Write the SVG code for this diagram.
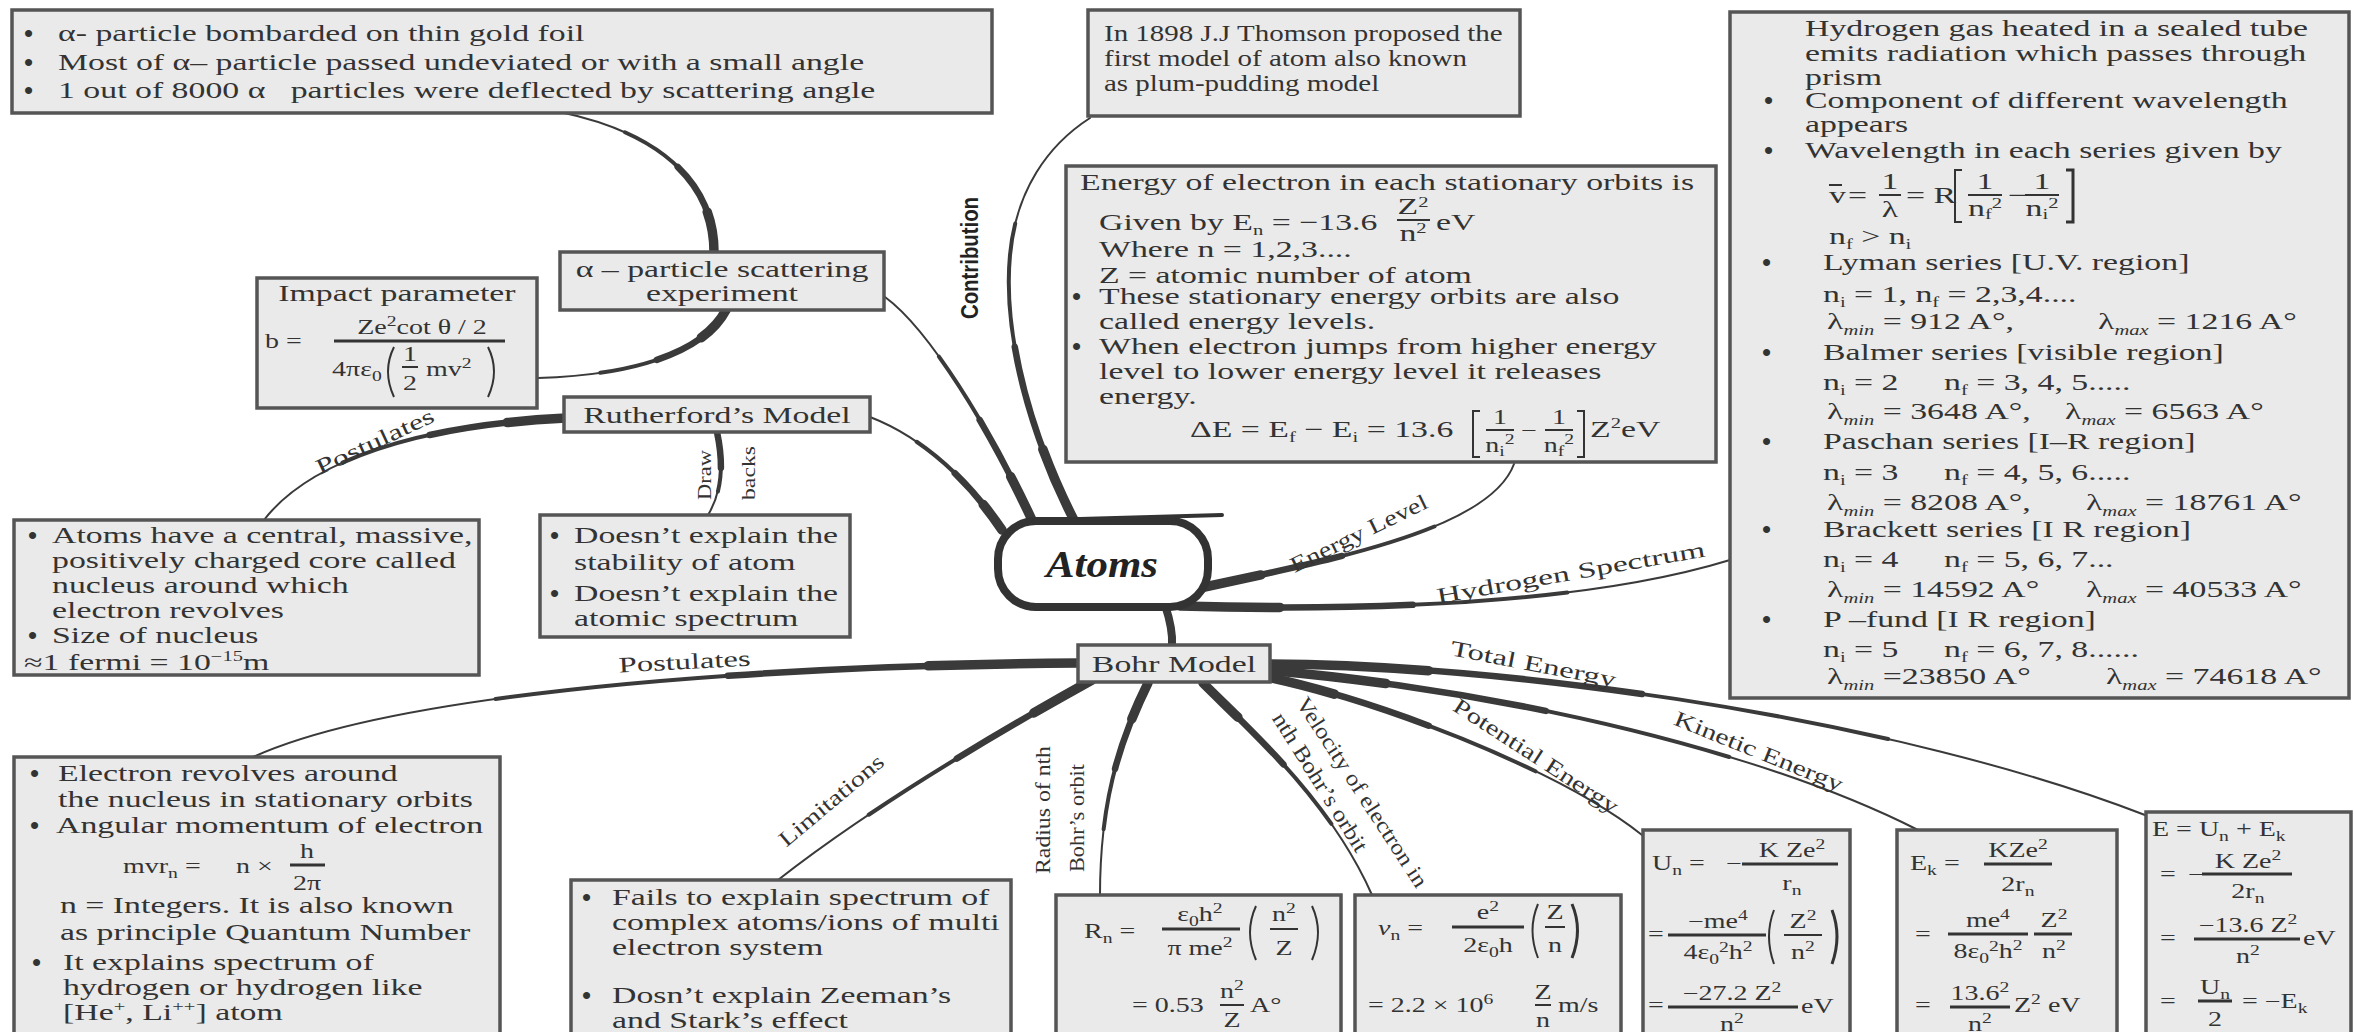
<svg xmlns="http://www.w3.org/2000/svg" width="2354" height="1032" viewBox="0 0 2354 1032">
<style>
.bx{fill:#eaeaea;stroke:#555;stroke-width:3.5}
.t{font-family:"Liberation Serif",serif;font-size:23px;fill:#333;transform-box:fill-box;transform-origin:0 0;transform:scaleX(1.47)}
.f{font-size:20px;transform:scaleX(1.4)}
.n{transform:scaleX(1.26)}
.c{text-anchor:middle;transform-origin:50% 0}
.s{font-size:14px}
.it{font-style:italic}
.b{font-family:"Liberation Serif",serif;font-size:26px;font-weight:bold;fill:#333}
.fl{stroke:#333;stroke-width:2;fill:none}
.lb{font-family:"Liberation Serif",serif;font-size:22px;fill:#333;text-anchor:middle}
.edge path{fill:none;stroke:#3a3a3a;stroke-linecap:round}
.w1{stroke-width:2}
.w2{stroke-width:4;stroke-dasharray:70 200}
.w3{stroke-width:6.5;stroke-dasharray:42 200}
.w4{stroke-width:9.5;stroke-dasharray:18 200}
</style>
<rect width="2354" height="1032" fill="#fff"/>

<g id="connectors">
 <g class="edge" id="e-contribution">
  <path class="w1" d="M1075,522 C1035,445 1002,340 1010,255 C1016,190 1048,145 1090,118"/>
  <path class="w2" pathLength="100" d="M1075,522 C1035,445 1002,340 1010,255 C1016,190 1048,145 1090,118"/>
  <path class="w3" pathLength="100" d="M1075,522 C1035,445 1002,340 1010,255 C1016,190 1048,145 1090,118"/>
  <path class="w4" pathLength="100" d="M1075,522 C1035,445 1002,340 1010,255 C1016,190 1048,145 1090,118"/>
 </g>
 <g class="edge" id="e-alpha">
  <path class="w1" d="M1032,520 C990,430 930,330 885,297"/>
  <path class="w2" pathLength="100" d="M1032,520 C990,430 930,330 885,297"/>
  <path class="w3" pathLength="100" d="M1032,520 C990,430 930,330 885,297"/>
  <path class="w4" pathLength="100" d="M1032,520 C990,430 930,330 885,297"/>
 </g>
 <g class="edge" id="e-rutherford">
  <path class="w1" d="M1002,530 C975,490 930,440 870,417"/>
  <path class="w2" pathLength="100" d="M1002,530 C975,490 930,440 870,417"/>
  <path class="w3" pathLength="100" d="M1002,530 C975,490 930,440 870,417"/>
  <path class="w4" pathLength="100" d="M1002,530 C975,490 930,440 870,417"/>
 </g>
 <g class="edge" id="e-alpha-notes">
  <path class="w1" d="M714,252 C714,190 670,135 560,112"/>
  <path class="w2" pathLength="100" d="M714,252 C714,190 670,135 560,112"/>
  <path class="w3" pathLength="100" d="M714,252 C714,190 670,135 560,112"/>
  <path class="w4" pathLength="100" d="M714,252 C714,190 670,135 560,112"/>
 </g>
 <g class="edge" id="e-alpha-impact">
  <path class="w1" d="M726,310 C705,350 640,375 538,378"/>
  <path class="w2" pathLength="100" d="M726,310 C705,350 640,375 538,378"/>
  <path class="w3" pathLength="100" d="M726,310 C705,350 640,375 538,378"/>
  <path class="w4" pathLength="100" d="M726,310 C705,350 640,375 538,378"/>
 </g>
 <g class="edge" id="e-ruth-postulates">
  <path class="w1" d="M566,418 C420,425 310,460 264,520"/>
  <path class="w2" pathLength="100" d="M566,418 C420,425 310,460 264,520"/>
  <path class="w3" pathLength="100" d="M566,418 C420,425 310,460 264,520"/>
  <path class="w4" pathLength="100" d="M566,418 C420,425 310,460 264,520"/>
  <text class="lb" transform="translate(378,448) rotate(-25)" textLength="128" lengthAdjust="spacingAndGlyphs">Postulates</text>
 </g>
 <g class="edge" id="e-ruth-drawbacks">
  <path class="w1" d="M717,432 C724,465 722,492 708,515"/>
  <path class="w2" pathLength="100" d="M717,432 C724,465 722,492 708,515"/>
  <path class="w3" pathLength="100" d="M717,432 C724,465 722,492 708,515"/>
  <text class="lb" style="font-size:19px" transform="translate(711,475) rotate(-90)" textLength="50" lengthAdjust="spacingAndGlyphs">Draw</text>
  <text class="lb" style="font-size:19px" transform="translate(755,473) rotate(-90)" textLength="54" lengthAdjust="spacingAndGlyphs">backs</text>
 </g>
 <g class="edge" id="e-energy">
  <path class="w1" d="M1200,588 C1330,560 1490,530 1514,464"/>
  <path class="w2" pathLength="100" d="M1200,588 C1330,560 1490,530 1514,464"/>
  <path class="w3" pathLength="100" d="M1200,588 C1330,560 1490,530 1514,464"/>
  <path class="w4" pathLength="100" d="M1200,588 C1330,560 1490,530 1514,464"/>
  <text class="lb" transform="translate(1362,540) rotate(-26)" textLength="150" lengthAdjust="spacingAndGlyphs">Energy Level</text>
 </g>
 <g class="edge" id="e-hydrogen">
  <path class="w1" d="M1180,606 C1400,612 1600,600 1730,560"/>
  <path class="w2" pathLength="100" d="M1180,606 C1400,612 1600,600 1730,560"/>
  <path class="w3" pathLength="100" d="M1180,606 C1400,612 1600,600 1730,560"/>
  <path class="w4" pathLength="100" d="M1180,606 C1400,612 1600,600 1730,560"/>
  <text class="lb" transform="translate(1572,580) rotate(-10)" textLength="272" lengthAdjust="spacingAndGlyphs">Hydrogen Spectrum</text>
 </g>
 <g class="edge" id="e-bohr">
  <path d="M1165,605 C1170,620 1173,632 1172,646" style="stroke-width:8"/>
 </g>
 <g class="edge" id="e-bohr-postulates">
  <path class="w1" d="M1078,663 C780,665 400,690 253,757"/>
  <path class="w2" pathLength="100" d="M1078,663 C780,665 400,690 253,757"/>
  <path class="w3" pathLength="100" d="M1078,663 C780,665 400,690 253,757"/>
  <path class="w4" pathLength="100" d="M1078,663 C780,665 400,690 253,757"/>
  <text class="lb" transform="translate(685,669) rotate(-3)" textLength="132" lengthAdjust="spacingAndGlyphs">Postulates</text>
 </g>
 <g class="edge" id="e-limitations">
  <path class="w1" d="M1092,680 C1020,720 880,800 778,880"/>
  <path class="w2" pathLength="100" d="M1092,680 C1020,720 880,800 778,880"/>
  <path class="w3" pathLength="100" d="M1092,680 C1020,720 880,800 778,880"/>
  <path class="w4" pathLength="100" d="M1092,680 C1020,720 880,800 778,880"/>
  <text class="lb" transform="translate(836,806) rotate(-40)" textLength="130" lengthAdjust="spacingAndGlyphs">Limitations</text>
 </g>
 <g class="edge" id="e-radius">
  <path class="w1" d="M1148,683 C1120,740 1100,800 1100,895"/>
  <path class="w2" pathLength="100" d="M1148,683 C1120,740 1100,800 1100,895"/>
  <path class="w3" pathLength="100" d="M1148,683 C1120,740 1100,800 1100,895"/>
  <path class="w4" pathLength="100" d="M1148,683 C1120,740 1100,800 1100,895"/>
  <text class="lb" style="font-size:20px" transform="translate(1050,810) rotate(-90)" textLength="128" lengthAdjust="spacingAndGlyphs">Radius of nth</text>
  <text class="lb" style="font-size:20px" transform="translate(1084,818) rotate(-90)" textLength="108" lengthAdjust="spacingAndGlyphs">Bohr’s orbit</text>
 </g>
 <g class="edge" id="e-velocity">
  <path class="w1" d="M1203,683 C1250,730 1330,800 1372,895"/>
  <path class="w2" pathLength="100" d="M1203,683 C1250,730 1330,800 1372,895"/>
  <path class="w3" pathLength="100" d="M1203,683 C1250,730 1330,800 1372,895"/>
  <path class="w4" pathLength="100" d="M1203,683 C1250,730 1330,800 1372,895"/>
  <text class="lb" transform="translate(1356,796) rotate(57)" textLength="222" lengthAdjust="spacingAndGlyphs">Velocity of electron in</text>
  <text class="lb" transform="translate(1314,786) rotate(58)" textLength="160" lengthAdjust="spacingAndGlyphs">nth Bohr’s orbit</text>
 </g>
 <g class="edge" id="e-potential">
  <path class="w1" d="M1262,676 C1380,700 1560,770 1642,835"/>
  <path class="w2" pathLength="100" d="M1262,676 C1380,700 1560,770 1642,835"/>
  <path class="w3" pathLength="100" d="M1262,676 C1380,700 1560,770 1642,835"/>
  <path class="w4" pathLength="100" d="M1262,676 C1380,700 1560,770 1642,835"/>
  <text class="lb" transform="translate(1532,762) rotate(33)" textLength="192" lengthAdjust="spacingAndGlyphs">Potential Energy</text>
 </g>
 <g class="edge" id="e-kinetic">
  <path class="w1" d="M1265,670 C1500,690 1760,750 1918,830"/>
  <path class="w2" pathLength="100" d="M1265,670 C1500,690 1760,750 1918,830"/>
  <path class="w3" pathLength="100" d="M1265,670 C1500,690 1760,750 1918,830"/>
  <path class="w4" pathLength="100" d="M1265,670 C1500,690 1760,750 1918,830"/>
  <text class="lb" transform="translate(1756,758) rotate(22)" textLength="180" lengthAdjust="spacingAndGlyphs">Kinetic Energy</text>
 </g>
 <g class="edge" id="e-total">
  <path class="w1" d="M1268,664 C1520,665 1900,720 2145,815"/>
  <path class="w2" pathLength="100" d="M1268,664 C1520,665 1900,720 2145,815"/>
  <path class="w3" pathLength="100" d="M1268,664 C1520,665 1900,720 2145,815"/>
  <path class="w4" pathLength="100" d="M1268,664 C1520,665 1900,720 2145,815"/>
  <text class="lb" transform="translate(1532,671) rotate(11)" textLength="168" lengthAdjust="spacingAndGlyphs">Total Energy</text>
 </g>
 <text transform="translate(978,258) rotate(-90)" text-anchor="middle" textLength="122" lengthAdjust="spacingAndGlyphs" style="font-family:'Liberation Sans',sans-serif;font-weight:bold;font-size:24px;fill:#222">Contribution</text>
</g>

<g id="n-alpha-notes">
 <rect class="bx" x="12" y="10" width="980" height="103"/>
 <text class="b" x="24" y="42">•</text><text class="b" x="24" y="71">•</text><text class="b" x="24" y="99">•</text>
 <text class="t" x="58" y="41">α- particle bombarded on thin gold foil</text>
 <text class="t" x="58" y="70">Most of α– particle passed undeviated or with a small angle</text>
 <text class="t" x="58" y="98">1 out of 8000 α&#160;&#160; particles were deflected by scattering angle</text>
</g>

<g id="n-thomson">
 <rect class="bx" x="1088" y="10" width="432" height="106"/>
 <text class="t n" x="1104" y="41">In 1898 J.J Thomson proposed the</text>
 <text class="t n" x="1104" y="66">first model of atom also known</text>
 <text class="t n" x="1104" y="91">as plum-pudding model</text>
</g>

<g id="n-energy">
 <rect class="bx" x="1066" y="166" width="650" height="296"/>
 <text class="t" x="1080" y="190">Energy of electron in each stationary orbits is</text>
 <text class="t" x="1099" y="230">Given by E<tspan class="s" dy="5">n</tspan><tspan dy="-5"> = −13.6</tspan></text>
 <text class="t c" x="1413" y="214">Z<tspan class="s" dy="-7">2</tspan></text>
 <line class="fl" x1="1397" y1="220" x2="1430" y2="220"/>
 <text class="t c" x="1413" y="241">n<tspan class="s" dy="-8">2</tspan></text>
 <text class="t" x="1436" y="230">eV</text>
 <text class="t" x="1099" y="257">Where n = 1,2,3....</text>
 <text class="t" x="1099" y="283">Z = atomic number of atom</text>
 <text class="b" x="1072" y="305">•</text>
 <text class="t" x="1099" y="304">These stationary energy orbits are also</text>
 <text class="t" x="1099" y="329">called energy levels.</text>
 <text class="b" x="1072" y="355">•</text>
 <text class="t" x="1099" y="354">When electron jumps from higher energy</text>
 <text class="t" x="1099" y="379">level to lower energy level it releases</text>
 <text class="t" x="1099" y="404">energy.</text>
 <text class="t" x="1190" y="437">ΔE = E<tspan class="s" dy="5">f</tspan><tspan dy="-5"> − E</tspan><tspan class="s" dy="5">i</tspan><tspan dy="-5"> = 13.6</tspan></text>
 <path class="fl" d="M1480,411 L1473,411 L1473,457 L1480,457"/>
 <text class="t f c" x="1500" y="424">1</text>
 <line class="fl" x1="1486" y1="430" x2="1514" y2="430"/>
 <text class="t f c" x="1500" y="452">n<tspan class="s" dy="4">i</tspan><tspan class="s" dy="-12">2</tspan></text>
 <text class="t f" x="1521" y="437">−</text>
 <text class="t f c" x="1559" y="424">1</text>
 <line class="fl" x1="1545" y1="430" x2="1573" y2="430"/>
 <text class="t f c" x="1559" y="452">n<tspan class="s" dy="4">f</tspan><tspan class="s" dy="-12">2</tspan></text>
 <path class="fl" d="M1577,411 L1584,411 L1584,457 L1577,457"/>
 <text class="t" x="1590" y="437">Z<tspan class="s" dy="-9">2</tspan><tspan dy="9">eV</tspan></text>
</g>

<g id="n-hydrogen">
 <rect class="bx" x="1730" y="12" width="619" height="686"/>
 <text class="t" x="1805" y="36">Hydrogen gas heated in a sealed tube</text>
 <text class="t" x="1805" y="61">emits radiation which passes through</text>
 <text class="t" x="1805" y="85">prism</text>
 <text class="b" x="1764" y="109">•</text>
 <text class="t" x="1805" y="108">Component of different wavelength</text>
 <text class="t" x="1805" y="132">appears</text>
 <text class="b" x="1764" y="159">•</text>
 <text class="t" x="1805" y="158">Wavelength in each series given by</text>
 <text class="t" x="1829" y="203">v</text>
 <line class="fl" x1="1829" y1="185" x2="1842" y2="185"/>
 <text class="t" x="1848" y="203">=</text>
 <text class="t c" x="1890" y="189">1</text>
 <line class="fl" x1="1879" y1="195" x2="1901" y2="195"/>
 <text class="t c" x="1890" y="217">λ</text>
 <text class="t" x="1906" y="203">= R</text>
 <path class="fl" d="M1962,170 L1955,170 L1955,222 L1962,222"/>
 <text class="t c" x="1985" y="189">1</text>
 <line class="fl" x1="1968" y1="195" x2="2002" y2="195"/>
 <text class="t c" x="1985" y="216">n<tspan class="s" dy="3">f</tspan><tspan class="s" dy="-11">2</tspan></text>
 <text class="t" x="2008" y="203">−</text>
 <text class="t c" x="2042" y="189">1</text>
 <line class="fl" x1="2025" y1="195" x2="2059" y2="195"/>
 <text class="t c" x="2042" y="216">n<tspan class="s" dy="3">i</tspan><tspan class="s" dy="-11">2</tspan></text>
 <path class="fl" d="M2066,170 L2073,170 L2073,222 L2066,222" style="stroke-width:3"/>
 <text class="t" x="1829" y="244">n<tspan class="s" dy="5">f</tspan><tspan dy="-5"> &gt; n</tspan><tspan class="s" dy="5">i</tspan></text>

 <text class="b" x="1762" y="271">•</text>
 <text class="t" x="1823" y="270">Lyman series [U.V. region]</text>
 <text class="t" x="1823" y="302">n<tspan class="s" dy="5">i</tspan><tspan dy="-5"> = 1, n</tspan><tspan class="s" dy="5">f</tspan><tspan dy="-5"> = 2,3,4....</tspan></text>
 <text class="t" x="1827" y="329">λ<tspan class="s it" dy="6">min</tspan><tspan dy="-6"> = 912 A°,</tspan></text>
 <text class="t" x="2098" y="329">λ<tspan class="s it" dy="6">max</tspan><tspan dy="-6"> = 1216 A°</tspan></text>

 <text class="b" x="1762" y="361">•</text>
 <text class="t" x="1823" y="360">Balmer series [visible region]</text>
 <text class="t" x="1823" y="390">n<tspan class="s" dy="5">i</tspan><tspan dy="-5"> = 2</tspan></text>
 <text class="t" x="1944" y="390">n<tspan class="s" dy="5">f</tspan><tspan dy="-5"> = 3, 4, 5.....</tspan></text>
 <text class="t" x="1827" y="419">λ<tspan class="s it" dy="6">min</tspan><tspan dy="-6"> = 3648 A°,</tspan></text>
 <text class="t" x="2065" y="419">λ<tspan class="s it" dy="6">max</tspan><tspan dy="-6"> = 6563 A°</tspan></text>

 <text class="b" x="1762" y="450">•</text>
 <text class="t" x="1823" y="449">Paschan series [I–R region]</text>
 <text class="t" x="1823" y="480">n<tspan class="s" dy="5">i</tspan><tspan dy="-5"> = 3</tspan></text>
 <text class="t" x="1944" y="480">n<tspan class="s" dy="5">f</tspan><tspan dy="-5"> = 4, 5, 6.....</tspan></text>
 <text class="t" x="1827" y="510">λ<tspan class="s it" dy="6">min</tspan><tspan dy="-6"> = 8208 A°,</tspan></text>
 <text class="t" x="2086" y="510">λ<tspan class="s it" dy="6">max</tspan><tspan dy="-6"> = 18761 A°</tspan></text>

 <text class="b" x="1762" y="538">•</text>
 <text class="t" x="1823" y="537">Brackett series [I R region]</text>
 <text class="t" x="1823" y="567">n<tspan class="s" dy="5">i</tspan><tspan dy="-5"> = 4</tspan></text>
 <text class="t" x="1944" y="567">n<tspan class="s" dy="5">f</tspan><tspan dy="-5"> = 5, 6, 7...</tspan></text>
 <text class="t" x="1827" y="597">λ<tspan class="s it" dy="6">min</tspan><tspan dy="-6"> = 14592 A°</tspan></text>
 <text class="t" x="2086" y="597">λ<tspan class="s it" dy="6">max</tspan><tspan dy="-6"> = 40533 A°</tspan></text>

 <text class="b" x="1762" y="628">•</text>
 <text class="t" x="1823" y="627">P –fund [I R region]</text>
 <text class="t" x="1823" y="657">n<tspan class="s" dy="5">i</tspan><tspan dy="-5"> = 5</tspan></text>
 <text class="t" x="1944" y="657">n<tspan class="s" dy="5">f</tspan><tspan dy="-5"> = 6, 7, 8......</tspan></text>
 <text class="t" x="1827" y="684">λ<tspan class="s it" dy="6">min</tspan><tspan dy="-6"> =23850 A°</tspan></text>
 <text class="t" x="2106" y="684">λ<tspan class="s it" dy="6">max</tspan><tspan dy="-6"> = 74618 A°</tspan></text>
</g>

<g id="n-alpha">
 <rect class="bx" x="560" y="252" width="324" height="58"/>
 <text class="t c" x="722" y="277">α – particle scattering</text>
 <text class="t c" x="722" y="301">experiment</text>
</g>

<g id="n-impact">
 <rect class="bx" x="257" y="278" width="280" height="130"/>
 <text class="t c" x="397" y="301">Impact parameter</text>
 <text class="t f" x="265" y="348">b =</text>
 <text class="t f c" x="422" y="334">Ze<tspan class="s" dy="-8">2</tspan><tspan dy="8">cot θ / 2</tspan></text>
 <line class="fl" x1="334" y1="341" x2="505" y2="341" style="stroke-width:3"/>
 <text class="t f" x="332" y="376">4πε<tspan class="s" dy="5">0</tspan></text>
 <path class="fl" d="M394,347 Q382,371 394,397"/>
 <text class="t f c" x="410" y="361">1</text>
 <line class="fl" x1="402" y1="367" x2="418" y2="367"/>
 <text class="t f c" x="410" y="390">2</text>
 <text class="t f" x="426" y="376">mv<tspan class="s" dy="-8">2</tspan></text>
 <path class="fl" d="M488,347 Q500,371 488,397"/>
</g>

<g id="n-rutherford">
 <rect class="bx" x="564" y="397" width="306" height="35"/>
 <text class="t c" x="717" y="423">Rutherford’s Model</text>
</g>

<g id="n-ruth-postulates">
 <rect class="bx" x="14" y="520" width="465" height="155"/>
 <text class="b" x="28" y="544">•</text>
 <text class="t" x="52" y="543">Atoms have a central, massive,</text>
 <text class="t" x="52" y="568">positively charged core called</text>
 <text class="t" x="52" y="593">nucleus around which</text>
 <text class="t" x="52" y="618">electron revolves</text>
 <text class="b" x="28" y="644">•</text>
 <text class="t" x="52" y="643">Size of nucleus</text>
 <text class="t" x="24" y="670">≈1 fermi = 10<tspan class="s" dy="-9">−15</tspan><tspan dy="9">m</tspan></text>
</g>

<g id="n-drawbacks">
 <rect class="bx" x="540" y="515" width="310" height="122"/>
 <text class="b" x="550" y="544">•</text>
 <text class="t" x="574" y="543">Doesn’t explain the</text>
 <text class="t" x="574" y="570">stability of atom</text>
 <text class="b" x="550" y="602">•</text>
 <text class="t" x="574" y="601">Doesn’t explain the</text>
 <text class="t" x="574" y="626">atomic spectrum</text>
</g>

<g id="n-atoms">
 <rect x="998" y="521" width="210" height="86" rx="38" fill="#fff" stroke="#333" stroke-width="8"/>
 <path d="M1080,519 C1150,517 1190,516 1222,515" stroke="#333" stroke-width="4" fill="none" stroke-linecap="round"/>
 <text x="1102" y="577" text-anchor="middle" textLength="112" lengthAdjust="spacingAndGlyphs" style="font-family:'Liberation Serif',serif;font-style:italic;font-weight:bold;font-size:38px;fill:#222">Atoms</text>
</g>

<g id="n-bohr">
 <rect class="bx" x="1078" y="645" width="192" height="37"/>
 <text class="t c" x="1174" y="672">Bohr Model</text>
</g>

<g id="n-bohr-postulates">
 <rect class="bx" x="14" y="757" width="486" height="290"/>
 <text class="b" x="30" y="782">•</text>
 <text class="t" x="58" y="781">Electron revolves around</text>
 <text class="t" x="58" y="807">the nucleus in stationary orbits</text>
 <text class="b" x="30" y="834">•</text>
 <text class="t" x="56" y="833">Angular momentum of electron</text>
 <text class="t f" x="123" y="873">mvr<tspan class="s" dy="5">n</tspan><tspan dy="-5"> =</tspan></text>
 <text class="t f" x="236" y="873">n ×</text>
 <text class="t f c" x="307" y="858">h</text>
 <line class="fl" x1="290" y1="865" x2="325" y2="865" style="stroke-width:3"/>
 <text class="t f c" x="307" y="890">2π</text>
 <text class="t" x="60" y="913">n = Integers. It is also known</text>
 <text class="t" x="60" y="940">as principle Quantum Number</text>
 <text class="b" x="32" y="971">•</text>
 <text class="t" x="63" y="970">It explains spectrum of</text>
 <text class="t" x="63" y="995">hydrogen or hydrogen like</text>
 <text class="t" x="63" y="1020">[He<tspan class="s" dy="-9">+</tspan><tspan dy="9">, Li</tspan><tspan class="s" dy="-9">++</tspan><tspan dy="9">] atom</tspan></text>
</g>

<g id="n-limitations">
 <rect class="bx" x="571" y="880" width="440" height="170"/>
 <text class="b" x="582" y="906">•</text>
 <text class="t" x="612" y="905">Fails to explain spectrum of</text>
 <text class="t" x="612" y="930">complex atoms/ions of multi</text>
 <text class="t" x="612" y="955">electron system</text>
 <text class="b" x="582" y="1004">•</text>
 <text class="t" x="612" y="1003">Dosn’t explain Zeeman’s</text>
 <text class="t" x="612" y="1028">and  Stark’s effect</text>
</g>

<g id="n-radius">
 <rect class="bx" x="1056" y="895" width="285" height="150"/>
 <text class="t f" x="1084" y="938">R<tspan class="s" dy="5">n</tspan><tspan dy="-5"> =</tspan></text>
 <text class="t f c" x="1200" y="921">ε<tspan class="s" dy="5">0</tspan><tspan dy="-5">h</tspan><tspan class="s" dy="-8">2</tspan></text>
 <line class="fl" x1="1162" y1="929" x2="1240" y2="929" style="stroke-width:3"/>
 <text class="t f c" x="1200" y="955">π me<tspan class="s" dy="-8">2</tspan></text>
 <path class="fl" d="M1256,906 Q1244,932 1256,960"/>
 <text class="t f c" x="1284" y="921">n<tspan class="s" dy="-8">2</tspan></text>
 <line class="fl" x1="1270" y1="929" x2="1298" y2="929"/>
 <text class="t f c" x="1284" y="955">Z</text>
 <path class="fl" d="M1312,906 Q1324,932 1312,960"/>
 <text class="t f" x="1132" y="1012">= 0.53</text>
 <text class="t f c" x="1232" y="998">n<tspan class="s" dy="-8">2</tspan></text>
 <line class="fl" x1="1220" y1="1005" x2="1244" y2="1005"/>
 <text class="t f c" x="1232" y="1027">Z</text>
 <text class="t f" x="1250" y="1012">A°</text>
</g>

<g id="n-velocity">
 <rect class="bx" x="1355" y="895" width="266" height="150"/>
 <text class="t f" x="1378" y="935"><tspan class="it">v</tspan><tspan class="s" dy="5">n</tspan><tspan dy="-5"> =</tspan></text>
 <text class="t f c" x="1488" y="919">e<tspan class="s" dy="-8">2</tspan></text>
 <line class="fl" x1="1452" y1="927" x2="1524" y2="927" style="stroke-width:3"/>
 <text class="t f c" x="1488" y="952">2ε<tspan class="s" dy="5">0</tspan><tspan dy="-5">h</tspan></text>
 <path class="fl" d="M1538,904 Q1527,930 1538,958"/>
 <text class="t f c" x="1555" y="919">Z</text>
 <line class="fl" x1="1545" y1="927" x2="1565" y2="927"/>
 <text class="t f c" x="1555" y="952">n</text>
 <path class="fl" d="M1572,904 Q1583,930 1572,958" style="stroke-width:3"/>
 <text class="t f" x="1368" y="1012">= 2.2 × 10<tspan class="s" dy="-8">6</tspan></text>
 <text class="t f c" x="1543" y="999">Z</text>
 <line class="fl" x1="1535" y1="1005" x2="1551" y2="1005"/>
 <text class="t f c" x="1543" y="1027">n</text>
 <text class="t f" x="1558" y="1012">m/s</text>
</g>

<g id="n-potential">
 <rect class="bx" x="1643" y="830" width="207" height="215"/>
 <text class="t f" x="1652" y="870">U<tspan class="s" dy="5">n</tspan><tspan dy="-5"> =</tspan></text>
 <text class="t f" x="1726" y="870">−</text>
 <text class="t f c" x="1792" y="857">K Ze<tspan class="s" dy="-8">2</tspan></text>
 <line class="fl" x1="1742" y1="864" x2="1838" y2="864" style="stroke-width:3"/>
 <text class="t f c" x="1792" y="890">r<tspan class="s" dy="5">n</tspan></text>
 <text class="t f" x="1648" y="941">=</text>
 <text class="t f c" x="1718" y="928">−me<tspan class="s" dy="-8">4</tspan></text>
 <line class="fl" x1="1668" y1="935" x2="1766" y2="935" style="stroke-width:3"/>
 <text class="t f c" x="1718" y="959">4ε<tspan class="s" dy="5">0</tspan><tspan class="s" dy="-12">2</tspan><tspan dy="7">h</tspan><tspan class="s" dy="-8">2</tspan></text>
 <path class="fl" d="M1774,910 Q1764,936 1774,964"/>
 <text class="t f c" x="1803" y="928">Z<tspan class="s" dy="-8">2</tspan></text>
 <line class="fl" x1="1784" y1="935" x2="1822" y2="935"/>
 <text class="t f c" x="1803" y="959">n<tspan class="s" dy="-8">2</tspan></text>
 <path class="fl" d="M1832,910 Q1842,936 1832,964" style="stroke-width:3"/>
 <text class="t f" x="1648" y="1012">=</text>
 <text class="t f c" x="1732" y="1000">−27.2 Z<tspan class="s" dy="-8">2</tspan></text>
 <line class="fl" x1="1668" y1="1007" x2="1798" y2="1007" style="stroke-width:3"/>
 <text class="t f c" x="1732" y="1031">n<tspan class="s" dy="-8">2</tspan></text>
 <text class="t f" x="1801" y="1013">eV</text>
</g>

<g id="n-kinetic">
 <rect class="bx" x="1897" y="830" width="220" height="215"/>
 <text class="t f" x="1910" y="870">E<tspan class="s" dy="5">k</tspan><tspan dy="-5"> =</tspan></text>
 <text class="t f c" x="2018" y="857">KZe<tspan class="s" dy="-8">2</tspan></text>
 <line class="fl" x1="1984" y1="864" x2="2052" y2="864" style="stroke-width:3"/>
 <text class="t f c" x="2018" y="891">2r<tspan class="s" dy="5">n</tspan></text>
 <text class="t f" x="1915" y="941">=</text>
 <text class="t f c" x="1988" y="927">me<tspan class="s" dy="-8">4</tspan></text>
 <line class="fl" x1="1948" y1="934" x2="2028" y2="934" style="stroke-width:3"/>
 <text class="t f c" x="1988" y="958">8ε<tspan class="s" dy="5">0</tspan><tspan class="s" dy="-12">2</tspan><tspan dy="7">h</tspan><tspan class="s" dy="-8">2</tspan></text>
 <text class="t f c" x="2054" y="927">Z<tspan class="s" dy="-8">2</tspan></text>
 <line class="fl" x1="2034" y1="934" x2="2072" y2="934" style="stroke-width:3"/>
 <text class="t f c" x="2054" y="958">n<tspan class="s" dy="-8">2</tspan></text>
 <text class="t f" x="1915" y="1012">=</text>
 <text class="t f c" x="1980" y="1000">13.6<tspan class="s" dy="-8">2</tspan></text>
 <line class="fl" x1="1950" y1="1007" x2="2010" y2="1007" style="stroke-width:3"/>
 <text class="t f c" x="1980" y="1031">n<tspan class="s" dy="-8">2</tspan></text>
 <text class="t f" x="2014" y="1012">Z<tspan class="s" dy="-8">2</tspan><tspan dy="8"> eV</tspan></text>
</g>

<g id="n-total">
 <rect class="bx" x="2146" y="812" width="205" height="235"/>
 <text class="t f" x="2152" y="836">E = U<tspan class="s" dy="5">n</tspan><tspan dy="-5"> + E</tspan><tspan class="s" dy="5">k</tspan></text>
 <text class="t f" x="2160" y="881">=</text>
 <text class="t f" x="2188" y="881">−</text>
 <text class="t f c" x="2248" y="868">K Ze<tspan class="s" dy="-8">2</tspan></text>
 <line class="fl" x1="2202" y1="874" x2="2292" y2="874" style="stroke-width:3"/>
 <text class="t f c" x="2248" y="898">2r<tspan class="s" dy="5">n</tspan></text>
 <text class="t f" x="2160" y="945">=</text>
 <text class="t f c" x="2248" y="932">−13.6 Z<tspan class="s" dy="-8">2</tspan></text>
 <line class="fl" x1="2194" y1="939" x2="2300" y2="939" style="stroke-width:3"/>
 <text class="t f c" x="2248" y="963">n<tspan class="s" dy="-8">2</tspan></text>
 <text class="t f" x="2303" y="945">eV</text>
 <text class="t f" x="2160" y="1008">=</text>
 <text class="t f c" x="2215" y="994">U<tspan class="s" dy="5">n</tspan></text>
 <line class="fl" x1="2198" y1="1001" x2="2232" y2="1001" style="stroke-width:3"/>
 <text class="t f c" x="2215" y="1026">2</text>
 <text class="t f" x="2242" y="1008">= −E<tspan class="s" dy="5">k</tspan></text>
</g>
</svg>
